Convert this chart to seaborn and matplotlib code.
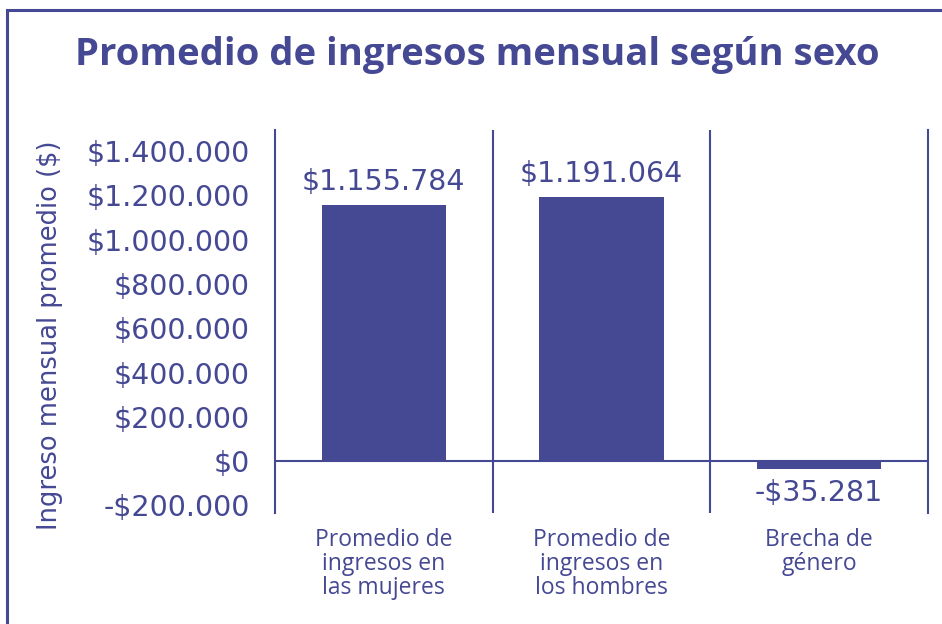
import matplotlib
matplotlib.use("Agg")
import matplotlib.pyplot as plt
import matplotlib.ticker as mticker
from matplotlib.patches import Rectangle
import seaborn as sns
import pandas as pd

categories = ["Promedio de\ningresos en\nlas mujeres",
              "Promedio de\ningresos en\nlos hombres",
              "Brecha de\ngénero"]
values = [1155784, 1191064, -35281]
yticks = [-200000, 0, 200000, 400000, 600000, 800000, 1000000, 1200000, 1400000]

BLUE = "#454893"

sns.set_theme(style="white")
plt.rcParams["font.family"] = ["DejaVu Sans"]

def money(v):
    s = f"{abs(int(round(v))):,}".replace(",", ".")
    return ("-$" if v < 0 else "$") + s

df = pd.DataFrame({"cat": categories, "val": values})

fig = plt.figure(figsize=(9.42, 6.24), dpi=100)
ax = fig.add_axes([275/942, 1-513/624, 653/942, 383/624])

sns.barplot(data=df, x="cat", y="val", color=BLUE, saturation=1, width=0.57, ax=ax)
for p in ax.patches:
    p.set_edgecolor("none")

ax.set_xlim(-0.5, 2.5)
ax.set_ylim(-235000, 1496000)
ax.set_yticks(yticks)
ax.yaxis.set_major_formatter(mticker.FuncFormatter(lambda v, _: money(v)))
ax.tick_params(axis="y", length=0, pad=18, labelsize=20.5, labelcolor=BLUE)
ax.tick_params(axis="x", length=0, pad=11, labelsize=16.5, labelcolor=BLUE)
for t in ax.get_xticklabels():
    t.set_family(["Open Sans", "DejaVu Sans"])
    t.set_linespacing(0.98)

ax.set_xlabel("")
ax.set_ylabel("Ingreso mensual promedio ($)", fontsize=18.5, color=BLUE)
ax.yaxis.set_label_coords(-0.325, 0.465)

for side in ["top", "bottom"]:
    ax.spines[side].set_visible(False)
for side in ["left", "right"]:
    ax.spines[side].set_color(BLUE)
    ax.spines[side].set_linewidth(1.5)
for xv in [0.5, 1.5]:
    ax.axvline(xv, color=BLUE, lw=1.5)
ax.axhline(0, color=BLUE, lw=1.5)

ax.bar_label(ax.containers[0], labels=[money(v) for v in values],
             padding=7, fontsize=20.5, color=BLUE)

fig.text(477/942, 1-55/624, "Promedio de ingresos mensual según sexo",
         ha="center", va="center", fontsize=27.5, fontweight="bold", color=BLUE,
         family=["Open Sans", "DejaVu Sans"])

frame = Rectangle((7/942, -0.1), 1.2, 1-10/624+0.1, transform=fig.transFigure,
                  fill=False, edgecolor=BLUE, lw=2.2, clip_on=False)
fig.add_artist(frame)

fig.savefig("out.png", dpi=100)
